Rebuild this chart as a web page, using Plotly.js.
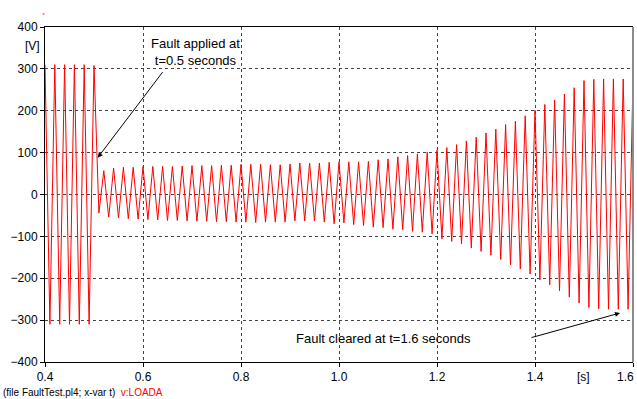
<!DOCTYPE html>
<html>
<head>
<meta charset="utf-8">
<script src="https://cdn.plot.ly/plotly-3.0.1.min.js"></script>
<style>
html,body{margin:0;padding:0;background:#fff;}
#chart{width:637px;height:399px;}
</style>
</head>
<body>
<div id="chart"></div>
<script>
// Time of each extremum (peak / trough) of the waveform, seconds
const timeS = [
 0.40,0.41,0.42,0.43,0.44,0.45,0.46,0.47,0.48,0.49,0.50,
 0.51,0.52,0.53,0.54,0.55,0.56,0.57,0.58,0.59,0.60,
 0.61,0.62,0.63,0.64,0.65,0.66,0.67,0.68,0.69,0.70,
 0.71,0.72,0.73,0.74,0.75,0.76,0.77,0.78,0.79,0.80,
 0.81,0.82,0.83,0.84,0.85,0.86,0.87,0.88,0.89,0.90,
 0.91,0.92,0.93,0.94,0.95,0.96,0.97,0.98,0.99,1.00,
 1.01,1.02,1.03,1.04,1.05,1.06,1.07,1.08,1.09,1.10,
 1.11,1.12,1.13,1.14,1.15,1.16,1.17,1.18,1.19,1.20,
 1.21,1.22,1.23,1.24,1.25,1.26,1.27,1.28,1.29,1.30,
 1.31,1.32,1.33,1.34,1.35,1.36,1.37,1.38,1.39,1.40,
 1.41,1.42,1.43,1.44,1.45,1.46,1.47,1.48,1.49,1.50,
 1.51,1.52,1.53,1.54,1.55,1.56,1.57,1.58,1.59,1.60
];
// v:LOADA voltage at each extremum, V
const voltageV = [
 310,-310,310,-310,310,-310,310,-310,310,-310,308,
 -44,57,-54,63,-56,65,-58,65,-59,67,
 -60,67,-61,67,-62,67,-62,68,-63,69,
 -64,69,-64,69,-65,70,-65,70,-66,72,
 -66,72,-67,72,-66,71,-66,71,-66,73,
 -63,75,-63,75,-63,75,-66,77,-70,78,
 -68,78,-72,78,-74,79,-78,83,-79,85,
 -83,90,-84,93,-88,97,-90,101,-94,106,
 -106,112,-112,119,-118,128,-128,137,-136,147,
 -145,156,-155,167,-168,175,-178,188,-190,201,
 -204,215,-216,226,-230,240,-245,255,-259,272,
 -270,275,-273,276,-274,276,-274,276,-274,275
];
const xTicks = [0.4,0.6,0.8,1.0,1.2,1.4,1.6];
const xTickText = ["0.4","0.6","0.8","1.0","1.2","1.4","1.6"];
const yTicks = [-400,-300,-200,-100,0,100,200,300,400];

const font = "Liberation Sans, Arial, sans-serif";

const trace = {
  x: timeS, y: voltageV, type: "scatter", mode: "lines",
  line: {color: "#ff0000", width: 1},
  hoverinfo: "skip"
};

const layout = {
  width: 637, height: 399,
  margin: {l: 45, r: 4, t: 27, b: 37},
  paper_bgcolor: "#ffffff", plot_bgcolor: "#ffffff",
  showlegend: false,
  font: {family: font, size: 12, color: "#000"},
  xaxis: {
    range: [0.4, 1.6], tickvals: xTicks, ticktext: xTickText,
    showline: true, linecolor: "#000", linewidth: 1, mirror: true,
    ticks: "outside", ticklen: 4, tickcolor: "#000",
    showgrid: true, gridcolor: "#444", griddash: "dot", gridwidth: 1,
    zeroline: false, tickfont: {family: font, size: 12, color: "#000"}
  },
  yaxis: {
    range: [-400, 400], tickvals: yTicks,
    showline: true, linecolor: "#000", linewidth: 1,
    ticks: "outside", ticklen: 4, tickcolor: "#000",
    showgrid: true, gridcolor: "#444", griddash: "dot", gridwidth: 1,
    zeroline: false, tickfont: {family: font, size: 12, color: "#000"}
  },
  shapes: [
    {type: "line", xref: "paper", yref: "paper", x0: 1, x1: 1, y0: 0, y1: 1,
     line: {color: "#8c8c8c", width: 2}},
    {type: "line", xref: "paper", yref: "paper", x0: -0.004, x1: -0.001, y0: 1.039, y1: 1.039,
     line: {color: "#ff0000", width: 1}}
  ],
  annotations: [
    {xref: "paper", yref: "paper", x: -0.021, y: 0.943, text: "[V]", showarrow: false,
     xanchor: "center", yanchor: "middle", font: {family: font, size: 12, color: "#000"}},
    {xref: "paper", yref: "paper", x: 0.915, y: -0.045, text: "[s]", showarrow: false,
     xanchor: "center", yanchor: "middle", font: {family: font, size: 12, color: "#000"}},
    {xref: "paper", yref: "paper", x: 1.0045, y: -0.045, text: "1.6", showarrow: false,
     xanchor: "right", yanchor: "middle", font: {family: font, size: 12, color: "#000"}},
    {xref: "x", yref: "y", x: 0.708, y: 341, text: "Fault applied at<br>t=0.5 seconds",
     showarrow: false, xanchor: "center", yanchor: "middle", align: "center",
     font: {family: font, size: 13, color: "#000"}},
    {xref: "x", yref: "y", x: 0.5076, y: 88, text: "", showarrow: true,
     axref: "pixel", ayref: "pixel", ax: 66, ay: -87,
     arrowhead: 2, arrowsize: 1, arrowwidth: 1, arrowcolor: "#000"},
    {xref: "x", yref: "y", x: 1.091, y: -345, text: "Fault cleared at t=1.6 seconds",
     showarrow: false, xanchor: "center", yanchor: "middle",
     font: {family: font, size: 13, color: "#000"}},
    {xref: "x", yref: "y", x: 1.5735, y: -283, text: "", showarrow: true,
     axref: "pixel", ayref: "pixel", ax: -90, ay: 25,
     arrowhead: 2, arrowsize: 1, arrowwidth: 1, arrowcolor: "#000"},
    {xref: "paper", yref: "paper", x: -0.0745, y: -0.0925, xanchor: "left", yanchor: "middle",
     showarrow: false, align: "left",
     text: "(file FaultTest.pl4; x-var t)  <span style=\"color:#ff0000\">v:LOADA</span>",
     font: {family: font, size: 10, color: "#000"}}
  ]
};

Plotly.newPlot("chart", [trace], layout, {displayModeBar: false, staticPlot: true});
</script>
</body>
</html>
